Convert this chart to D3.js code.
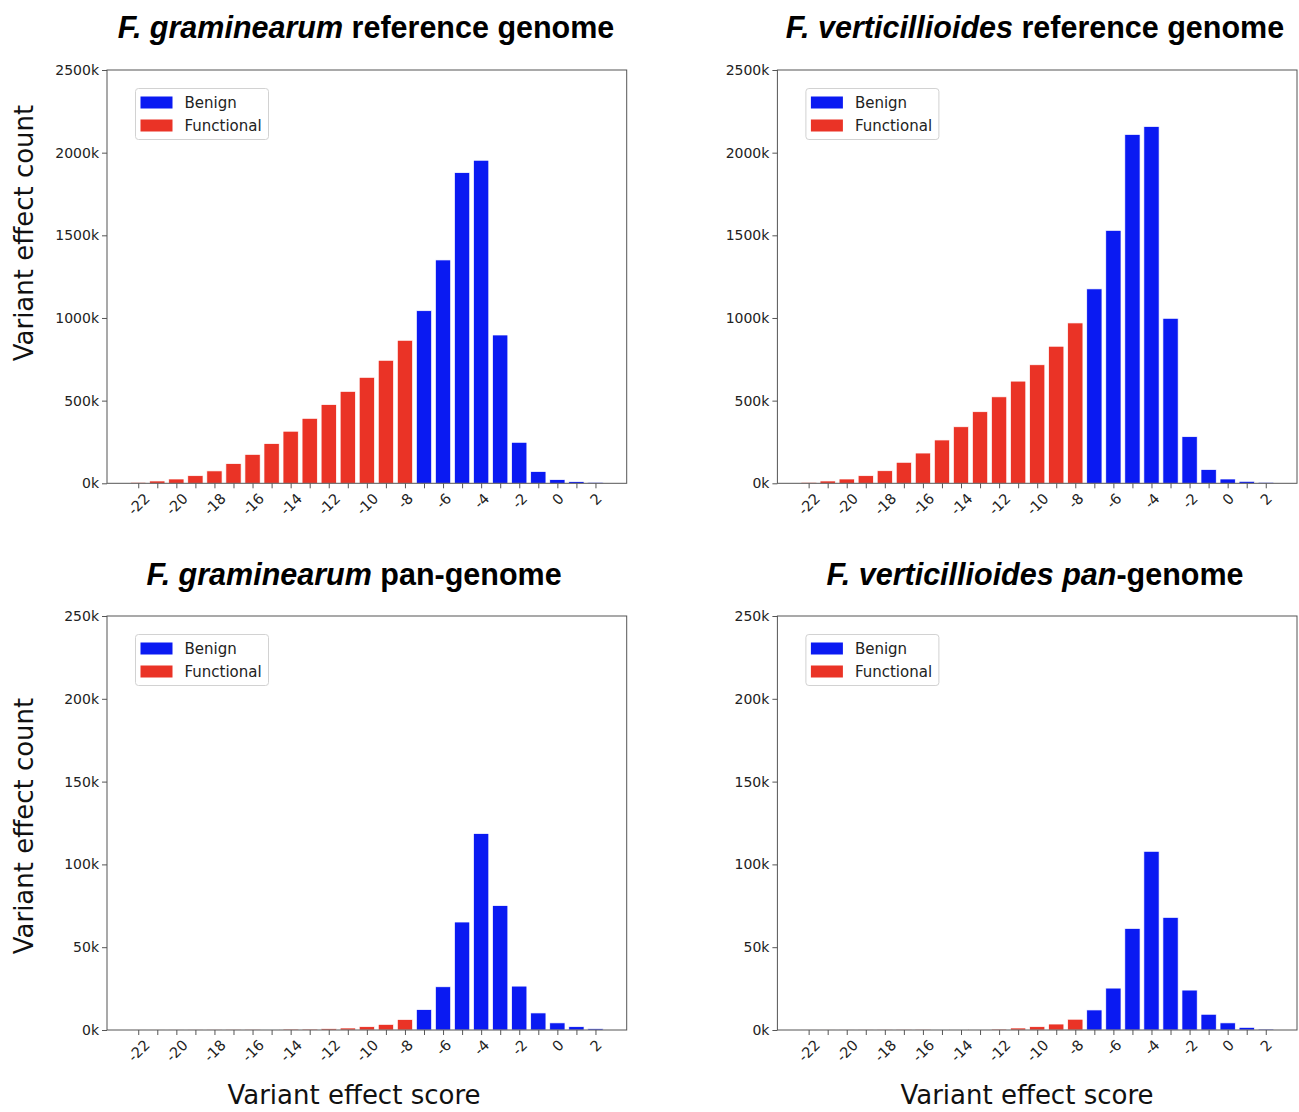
<!DOCTYPE html>
<html lang="en">
  <head>
    <meta charset="utf-8" />
    <script src="https://d3js.org/d3.v7.min.js"></script>
    <style>
      body { margin: 0; background: white; }
      text { font-family: "DejaVu Sans", sans-serif; }
    </style>
  </head>
  <body>
    <script type="text/javascript">

      // bin centres of the variant effect score
      var scores = [-22, -21, -20, -19, -18, -17, -16, -15, -14, -13, -12, -11,
                    -10, -9, -8, -7, -6, -5, -4, -3, -2, -1, 0, 1, 2];
      var labelledScores = [-22, -20, -18, -16, -14, -12, -10, -8, -6, -4, -2, 0, 2];

      // bins at or below this score are "Functional", the rest "Benign"
      var functionalCutoff = -8;

      // counts per bin, in thousands
      var graminearumRef = [6, 14, 26, 46, 75, 119, 175, 240, 315, 393, 476, 556,
                            641, 744, 865, 1044, 1351, 1879, 1954, 897, 248, 71, 22, 10, 6];
      var verticillioidesRef = [6, 14, 26, 46, 76, 127, 183, 262, 342, 433, 523, 618,
                                717, 829, 970, 1176, 1530, 2110, 2158, 998, 282, 83, 26, 12, 6];
      var graminearumPan = [0.02, 0.03, 0.04, 0.06, 0.09, 0.14, 0.2, 0.35, 0.6, 0.6, 0.8, 1.2,
                            2.0, 3.4, 6.3, 12.3, 26.1, 65.2, 118.6, 75.1, 26.5, 10.3, 4.3, 2.0, 0.8];
      var verticillioidesPan = [0.02, 0.03, 0.04, 0.06, 0.09, 0.13, 0.2, 0.3, 0.4, 0.4, 0.6, 1.2,
                                2.0, 3.6, 6.5, 12.1, 25.3, 61.3, 107.9, 68.0, 24.1, 9.5, 4.3, 1.6, 0.6];

      // y tick values (thousands)
      var refTicks = [0, 500, 1000, 1500, 2000, 2500];
      var panTicks = [0, 50, 100, 150, 200, 250];

      var legendLabels = ["Benign", "Functional"];

      // look
      var w = 1299;
      var h = 1112;
      var blue = "#0a1af2";
      var red = "#ea3326";
      var axisColor = "#555";
      var barWidth = 0.8;

      // x domain like matplotlib: bar extent plus 5% margin
      var xLo = scores[0] - barWidth / 2;
      var xHi = scores[scores.length - 1] + barWidth / 2;
      var xPad = (xHi - xLo) * 0.05;
      var xDomain = [xLo - xPad, xHi + xPad];

      var svg = d3.select("body")
                  .append("svg")
                  .attr("width", w)
                  .attr("height", h);

      // panels
      var panels = [
        {values: graminearumRef, ticks: refTicks, left: 107, right: 626.7, top: 70, bottom: 483.3,
         title: [["F. graminearum", true], [" reference genome", false]], titleX: 366, titleY: 38},
        {values: verticillioidesRef, ticks: refTicks, left: 777.4, right: 1297, top: 70, bottom: 483.3,
         title: [["F. verticillioides", true], [" reference genome", false]], titleX: 1035, titleY: 38},
        {values: graminearumPan, ticks: panTicks, left: 107, right: 626.7, top: 616, bottom: 1030,
         title: [["F. graminearum", true], [" pan-genome", false]], titleX: 354, titleY: 585},
        {values: verticillioidesPan, ticks: panTicks, left: 777.4, right: 1297, top: 616, bottom: 1030,
         title: [["F. verticillioides pan", true], ["-genome", false]], titleX: 1035, titleY: 585}
      ];

      panels.forEach(drawPanel);

      // y labels
      [233, 826].forEach(function(cy) {
        svg.append("text")
           .attr("transform", "translate(33," + cy + ") rotate(-90)")
           .attr("text-anchor", "middle")
           .style("font-size", "26px")
           .attr("fill", "#111")
           .text("Variant effect count");
      });

      // x labels
      [354, 1027].forEach(function(cx) {
        svg.append("text")
           .attr("x", cx)
           .attr("y", 1104)
           .attr("text-anchor", "middle")
           .style("font-size", "26px")
           .attr("fill", "#111")
           .text("Variant effect score");
      });


      // draws one histogram panel
      function drawPanel(p) {
        var x = d3.scaleLinear().domain(xDomain).range([p.left, p.right]);
        var y = d3.scaleLinear()
                  .domain([0, p.ticks[p.ticks.length - 1]])
                  .range([p.bottom, p.top]);
        var g = svg.append("g");

        // bars
        g.selectAll("rect.bar")
         .data(p.values)
         .enter()
         .append("rect")
         .attr("class", "bar")
         .attr("x", function(d, i) { return x(scores[i] - barWidth / 2); })
         .attr("width", x(barWidth) - x(0))
         .attr("y", function(d) { return y(d); })
         .attr("height", function(d) { return y(0) - y(d); })
         .attr("fill", function(d, i) {
           return scores[i] <= functionalCutoff ? red : blue;
         })
         .attr("stroke", "white")
         .attr("stroke-width", 0.7);

        // y axis
        var yAxis = d3.axisLeft(y)
                      .tickValues(p.ticks)
                      .tickFormat(function(d) { return d + "k"; })
                      .tickSize(5)
                      .tickPadding(3);
        var ya = g.append("g")
                  .attr("transform", "translate(" + p.left + ",0)")
                  .call(yAxis);
        ya.select(".domain").remove();
        ya.selectAll("line").attr("stroke", axisColor);
        ya.selectAll("text")
          .style("font-size", "14px")
          .style("font-family", "DejaVu Sans")
          .attr("fill", "#222");

        // x axis: tick at every bin, label every second one
        var xAxis = d3.axisBottom(x)
                      .tickValues(scores)
                      .tickFormat(function(d) {
                        return labelledScores.indexOf(d) >= 0 ? String(d) : "";
                      })
                      .tickSize(5);
        var xa = g.append("g")
                  .attr("transform", "translate(0," + p.bottom + ")")
                  .call(xAxis);
        xa.select(".domain").remove();
        xa.selectAll("line").attr("stroke", axisColor);
        xa.selectAll("text")
          .style("font-size", "14.5px")
          .style("font-family", "DejaVu Sans")
          .attr("fill", "#222")
          .attr("y", null)
          .attr("dy", null)
          .attr("text-anchor", "middle")
          .attr("dominant-baseline", "central")
          .attr("transform", function() {
            var len = this.getComputedTextLength();
            var off = 9 + (len / 2 + 5) * Math.SQRT1_2;
            return "translate(0," + off + ") rotate(-45)";
          });

        // frame
        g.append("rect")
         .attr("x", p.left)
         .attr("y", p.top)
         .attr("width", p.right - p.left)
         .attr("height", p.bottom - p.top)
         .attr("fill", "none")
         .attr("stroke", axisColor)
         .attr("stroke-width", 1);

        // legend
        var lx = p.left + 28.5;
        var ly = p.top + 18.5;
        var legend = g.append("g").attr("transform", "translate(" + lx + "," + ly + ")");
        legend.append("rect")
              .attr("width", 133)
              .attr("height", 51)
              .attr("rx", 3)
              .attr("fill", "white")
              .attr("fill-opacity", 0.85)
              .attr("stroke", "#d2d2d2");
        legend.selectAll("rect.patch")
              .data(legendLabels)
              .enter()
              .append("rect")
              .attr("class", "patch")
              .attr("x", 5)
              .attr("y", function(d, i) { return 8 + i * 23; })
              .attr("width", 32)
              .attr("height", 12)
              .attr("fill", function(d, i) { return i === 0 ? blue : red; });
        legend.selectAll("text")
              .data(legendLabels)
              .enter()
              .append("text")
              .attr("x", 49)
              .attr("y", function(d, i) { return 14 + i * 23; })
              .attr("dominant-baseline", "central")
              .style("font-size", "15px")
              .attr("fill", "#222")
              .text(function(d) { return d; });

        // title
        var t = svg.append("text")
                   .attr("x", p.titleX)
                   .attr("y", p.titleY)
                   .attr("text-anchor", "middle")
                   .style("font-family", "'Liberation Sans', Arial, sans-serif")
                   .style("font-weight", "bold")
                   .style("font-size", "30.5px")
                   .attr("fill", "#000");
        p.title.forEach(function(part) {
          t.append("tspan")
           .style("font-style", part[1] ? "italic" : "normal")
           .text(part[0]);
        });
      }

    </script>
  </body>
</html>
